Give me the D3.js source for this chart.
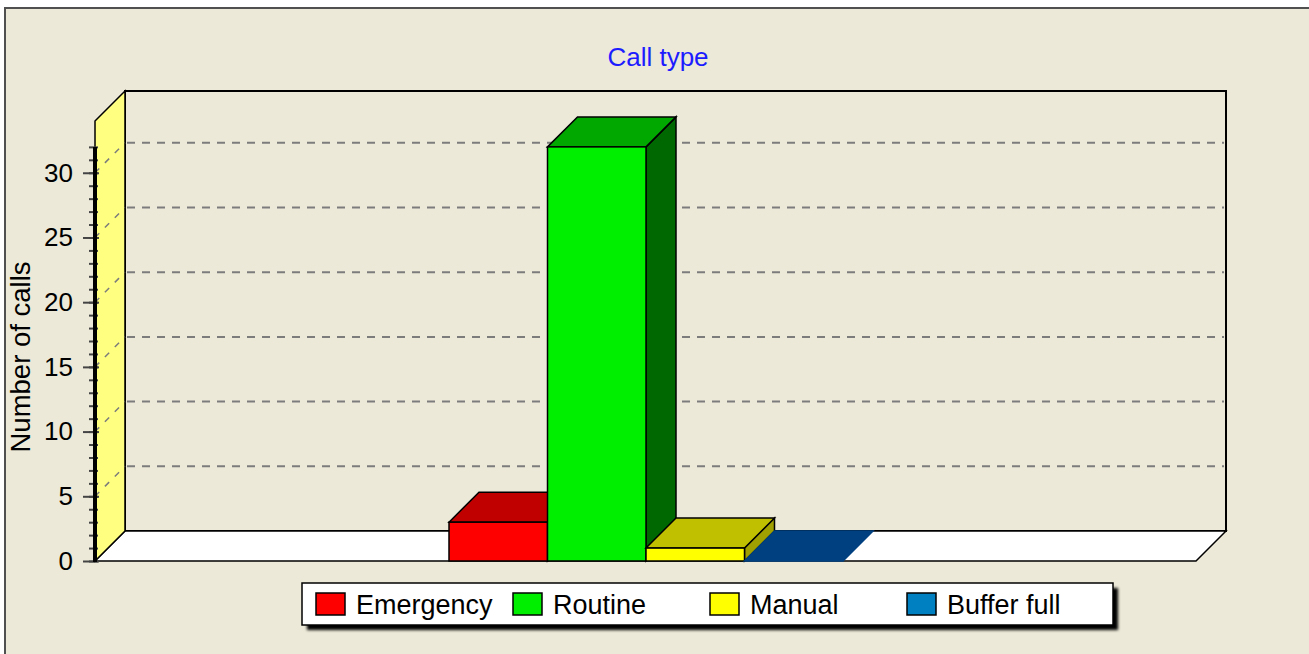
<!DOCTYPE html>
<html>
<head>
<meta charset="utf-8">
<script src="https://cdn.jsdelivr.net/npm/d3@7"></script>
<style>
  body { margin: 0; background: #fff; }
  svg text { font-family: "Liberation Sans", Arial, sans-serif; }
</style>
</head>
<body>
<svg id="chart" width="1309" height="654"></svg>
<script>
// data
var categories = ['Emergency', 'Routine', 'Manual', 'Buffer full'];
var values = [3, 32, 1, 0];
var yTicks = [0, 5, 10, 15, 20, 25, 30];
var frontColors = ['#ff0000', '#00ee00', '#ffff00', '#0080c0'];
var topColors = ['#c00000', '#00a800', '#c0c000', '#004080'];
var sideColors = ['#900000', '#006800', '#a0a000', '#003060'];

var svg = d3.select('#chart');
var dx = 30, dy = 30;          // 3d depth
var left = 95, right = 1196;   // front floor edge

var y = d3.scaleLinear().domain([0, 34]).range([561, 121]);
var x = d3.scaleBand().domain(categories).range([449, 843]);
var y0 = y(0);

// frame
svg.append('rect').attr('x', 5).attr('y', 8).attr('width', 1304).attr('height', 646)
	.attr('fill', '#ece9d8');
svg.append('path').attr('d', 'M5,654V8H1309').attr('fill', 'none')
	.attr('stroke', '#505050').attr('stroke-width', 2);

// title
svg.append('text').attr('x', 658).attr('y', 66).attr('text-anchor', 'middle')
	.attr('font-size', 26).attr('fill', '#1c1cff').text('Call type');

// back wall
svg.append('rect')
	.attr('x', left + dx).attr('y', y(34) - dy)
	.attr('width', right - left).attr('height', y0 - y(34))
	.attr('fill', 'none').attr('stroke', '#000').attr('stroke-width', 2);

// floor
svg.append('polygon')
	.attr('points', [[left, y0], [left + dx, y0 - dy], [right + dx, y0 - dy], [right, y0]].join(' '))
	.attr('fill', '#fff').attr('stroke', '#000').attr('stroke-width', 1.5);

// left wall
svg.append('polygon')
	.attr('points', [[left, y(34)], [left + dx, y(34) - dy], [left + dx, y0 - dy], [left, y0]].join(' '))
	.attr('fill', '#ffff80').attr('stroke', '#000').attr('stroke-width', 1.5);

// grid lines on back wall and wall diagonals
var grid = yTicks.filter(function(v) { return v > 0; });
svg.selectAll('line.grid').data(grid).enter().append('line')
	.attr('class', 'grid')
	.attr('x1', left + dx + 2).attr('x2', right + dx - 2)
	.attr('y1', function(d) { return y(d) - dy; })
	.attr('y2', function(d) { return y(d) - dy; })
	.attr('stroke', '#7c7c7c').attr('stroke-width', 2)
	.attr('stroke-dasharray', '8,7');
svg.selectAll('line.diag').data(grid).enter().append('line')
	.attr('class', 'diag')
	.attr('x1', left).attr('x2', left + dx)
	.attr('y1', function(d) { return y(d); })
	.attr('y2', function(d) { return y(d) - dy; })
	.attr('stroke', '#7c7c7c').attr('stroke-width', 1.5)
	.attr('stroke-dasharray', '6,8');

// bars, left to right so later ones overlap earlier sides
var bars = svg.selectAll('g.bar').data(categories).enter().append('g').attr('class', 'bar');
bars.each(function(c, i) {
	var g = d3.select(this),
		bx = x(c), bw = x.bandwidth(), yv = y(values[i]);
	if (values[i] > 0) {
		g.append('polygon')
			.attr('points', [[bx + bw, yv], [bx + bw + dx, yv - dy], [bx + bw + dx, y0 - dy], [bx + bw, y0]].join(' '))
			.attr('fill', sideColors[i]).attr('stroke', '#000').attr('stroke-width', 1.5);
	}
	g.append('polygon')
		.attr('points', [[bx, yv], [bx + dx, yv - dy], [bx + bw + dx, yv - dy], [bx + bw, yv]].join(' '))
		.attr('fill', topColors[i]).attr('stroke', values[i] > 0 ? '#000' : topColors[i])
		.attr('stroke-width', 1.5);
	if (values[i] > 0) {
		g.append('rect').attr('x', bx).attr('y', yv).attr('width', bw).attr('height', y0 - yv)
			.attr('fill', frontColors[i]).attr('stroke', '#000').attr('stroke-width', 1.5);
	}
});

// y axis
var axisG = svg.append('g').attr('transform', 'translate(' + left + ',0)');
axisG.call(d3.axisLeft(y).tickValues(d3.range(0, 33, 1)).tickSize(6).tickFormat(''))
	.call(function(g) { g.select('.domain').remove(); });
axisG.selectAll('.tick line').attr('x2', -6).attr('x1', 3).attr('stroke', '#444').attr('stroke-width', 2);

var majorG = svg.append('g').attr('transform', 'translate(' + left + ',0)');
majorG.call(d3.axisLeft(y).tickValues(yTicks).tickSize(12).tickPadding(10))
	.call(function(g) { g.select('.domain').remove(); });
majorG.selectAll('.tick line').attr('x1', 4).attr('stroke', '#444').attr('stroke-width', 2);
majorG.selectAll('.tick text').attr('font-size', 26).attr('fill', '#000')
	.attr('font-family', '"Liberation Sans", Arial, sans-serif');

svg.append('line').attr('x1', left).attr('x2', left).attr('y1', y(32)).attr('y2', y0 + 1)
	.attr('stroke', '#000').attr('stroke-width', 4);

svg.append('text')
	.attr('transform', 'translate(30,357) rotate(-90)')
	.attr('text-anchor', 'middle').attr('font-size', 27.5).attr('fill', '#000')
	.text('Number of calls');

// legend
var defs = svg.append('defs');
defs.append('filter').attr('id', 'blur').append('feGaussianBlur').attr('stdDeviation', 1.5);
svg.append('rect').attr('x', 307).attr('y', 588).attr('width', 811).attr('height', 42)
	.attr('fill', '#000').attr('filter', 'url(#blur)');
svg.append('rect').attr('x', 302).attr('y', 583).attr('width', 811).attr('height', 42)
	.attr('fill', '#fff').attr('stroke', '#000').attr('stroke-width', 1.5);

var lx = d3.scaleBand().domain(categories).range([316, 316 + 197 * categories.length]);
var items = svg.selectAll('g.legend').data(categories).enter().append('g')
	.attr('class', 'legend')
	.attr('transform', function(d) { return 'translate(' + lx(d) + ',593)'; });
items.append('rect').attr('width', 29).attr('height', 22)
	.attr('fill', function(d, i) { return frontColors[i]; })
	.attr('stroke', '#000').attr('stroke-width', 1.5);
items.append('text').attr('x', 40).attr('y', 21).attr('font-size', 27).attr('fill', '#000')
	.text(function(d) { return d; });
</script>
</body>
</html>
